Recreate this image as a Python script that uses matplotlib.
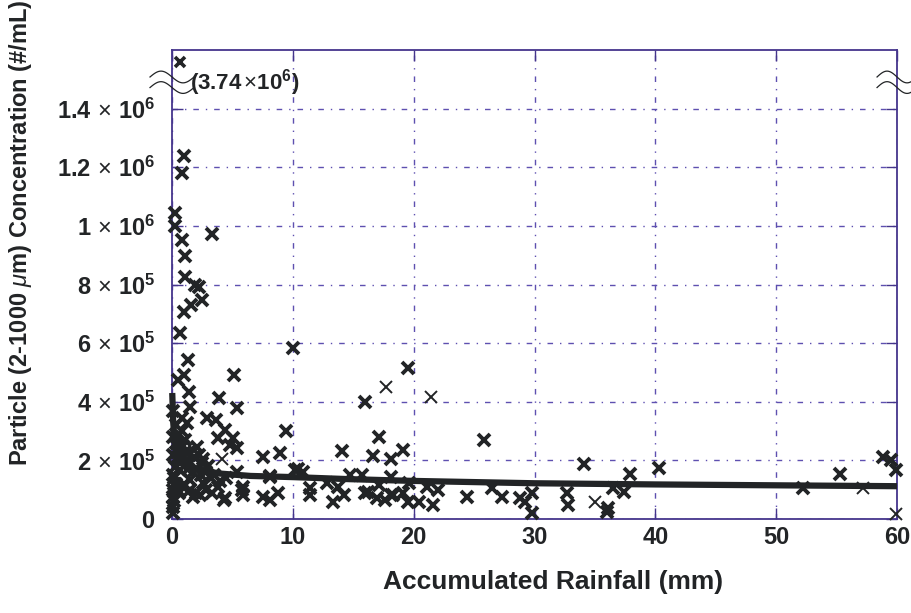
import numpy as np
import matplotlib
matplotlib.use("Agg")
import matplotlib.pyplot as plt
import matplotlib.transforms as mtransforms

plt.rcParams['font.family'] = ['Liberation Sans', 'DejaVu Sans']
plt.rcParams['mathtext.fontset'] = 'custom'
plt.rcParams['mathtext.rm'] = 'Liberation Sans'
plt.rcParams['mathtext.bf'] = 'Liberation Sans:bold'
plt.rcParams['mathtext.it'] = 'Liberation Sans:italic'

# ---------------- data ----------------
# bold markers
rain_x = [1.0, 0.8, 0.25, 0.25, 0.8, 1.1, 3.3, 1.1, 1.9, 2.2, 2.5, 1.6, 1.0, 0.65,
          10.0, 5.1, 1.3, 1.0, 0.5, 1.4, 3.9, 5.4, 1.5, 0.8, 2.9, 3.6, 1.2, 4.4,
          3.8, 5.05, 5.4, 4.8, 2.1, 9.4, 8.9, 7.5, 14.1, 2.6, 10.4, 10.8, 8.1,
          5.4, 5.9, 5.9, 4.4, 7.5, 8.1, 8.8, 11.4, 11.4, 13.3, 13.7, 14.2, 2.3,
          1.7, 0.9, 0.1, 0.1, 0.1, 0.65, 0.25, 1.5, 2.6, 1.1, 2.2,
          16.0, 17.1, 16.6, 18.1, 8.1, 10.2, 12.8, 14.7, 15.7, 16.0, 17.1, 17.0,
          17.6, 18.1, 18.3, 19.5, 19.1, 25.8, 34.1, 16.2, 18.1, 19.1, 19.6, 19.5,
          20.4, 21.1, 21.6, 22.0, 24.4, 26.5, 27.3, 28.8, 29.2, 29.8, 29.8, 32.7,
          32.8, 37.9, 40.3, 36.0, 36.1, 36.5, 37.4, 52.2, 55.3, 58.8, 59.5, 59.9,
          5.8, 4.3,
          0.3, 0.4, 0.5, 0.6, 0.7, 0.8, 0.9, 1.0, 1.2, 1.3, 1.5, 1.7, 2.0, 2.4,
          2.8, 3.2, 0.2, 0.3, 0.5, 0.6, 0.2, 0.1, 0.4, 0.6, 1.1, 1.4, 1.8, 2.5,
          3.0, 3.5, 4.0, 4.5, 1.0, 1.5, 2.0, 2.8, 3.3, 3.8, 0.8, 0.3, 0.1, 0.05,
          0.1, 0.15, 0.1]
conc_y = [1.24e6, 1.18e6, 1.043e6, 0.998e6, 0.951e6, 0.899e6, 0.974e6, 0.824e6,
          0.797e6, 0.790e6, 0.746e6, 0.729e6, 0.705e6, 0.634e6,
          5.83e5, 4.9e5, 5.42e5, 4.9e5, 4.74e5, 4.33e5, 4.12e5, 3.78e5, 3.82e5,
          3.44e5, 3.44e5, 3.37e5, 3.27e5, 3.03e5, 2.76e5, 2.76e5, 2.42e5, 2.52e5,
          2.45e5, 3.0e5, 2.25e5, 2.11e5, 2.32e5, 2.04e5, 1.70e5, 1.60e5, 1.47e5,
          1.60e5, 1.09e5, 0.82e5, 0.72e5, 0.75e5, 0.65e5, 0.89e5, 1.06e5, 0.82e5,
          0.58e5, 1.09e5, 0.82e5, 0.82e5, 0.75e5, 1.09e5, 0.75e5, 0.2e5, 0.41e5,
          1.67e5, 1.77e5, 1.33e5, 1.23e5, 2.28e5, 2.18e5,
          3.99e5, 2.79e5, 2.15e5, 2.04e5, 1.43e5, 1.67e5, 1.23e5, 1.5e5, 1.5e5,
          0.89e5, 1.16e5, 0.72e5, 0.65e5, 1.43e5, 0.82e5, 5.14e5, 2.35e5, 2.69e5,
          1.87e5, 0.92e5, 0.82e5, 0.89e5, 1.23e5, 0.58e5, 0.58e5, 1.09e5, 0.48e5,
          0.99e5, 0.75e5, 1.06e5, 0.75e5, 0.72e5, 0.58e5, 0.89e5, 0.2e5, 0.89e5,
          0.48e5, 1.53e5, 1.74e5, 0.24e5, 0.37e5, 1.06e5, 0.92e5, 1.06e5, 1.53e5,
          2.11e5, 2.0e5, 1.67e5,
          0.99e5, 0.65e5,
          2.6e5, 2.3e5, 2.1e5, 2.0e5, 1.9e5, 2.2e5, 2.5e5, 1.8e5, 2.0e5, 1.7e5,
          1.9e5, 1.6e5, 1.7e5, 1.5e5, 1.6e5, 1.4e5, 1.4e5, 1.2e5, 1.0e5, 0.9e5,
          0.6e5, 1.0e5, 2.8e5, 2.4e5, 2.7e5, 2.3e5, 2.1e5, 1.9e5, 1.8e5, 1.5e5,
          1.3e5, 1.4e5, 1.2e5, 1.0e5, 0.9e5, 1.0e5, 0.9e5, 1.1e5, 3.0e5, 3.2e5,
          2.8e5, 2.2e5, 1.5e5, 1.2e5, 3.7e5]

# thinner markers
thin_x = [4.1, 17.7, 21.4, 57.2, 59.9, 35.0]
thin_y = [2.04e5, 4.5e5, 4.16e5, 1.06e5, 0.17e5, 0.58e5]

# off-scale outlier (drawn at the axis break)
outlier_x = 0.7
outlier_value = 3.74e6
outlier_shown = 1.56e6
break_level = 1.49e6

# fitted curve
fit_x = [0.02, 0.1, 0.2, 0.4, 0.7, 1.0, 1.5, 2.3, 4.0, 6.5, 10.0, 14.7, 20.0,
         30.0, 40.0, 50.0, 60.0]
fit_y = [4.3e5, 3.3e5, 2.8e5, 2.35e5, 2.1e5, 1.95e5, 1.82e5, 1.67e5, 1.55e5,
         1.47e5, 1.43e5, 1.36e5, 1.30e5, 1.22e5, 1.18e5, 1.15e5, 1.12e5]

x_ticks = [0, 10, 20, 30, 40, 50, 60]
y_ticks = [0, 2e5, 4e5, 6e5, 8e5, 1e6, 1.2e6, 1.4e6]
y_tick_labels = [r'$\mathbf{0}$',
                 r'$\mathbf{2}\,\times\,\mathbf{10^{5}}$',
                 r'$\mathbf{4}\,\times\,\mathbf{10^{5}}$',
                 r'$\mathbf{6}\,\times\,\mathbf{10^{5}}$',
                 r'$\mathbf{8}\,\times\,\mathbf{10^{5}}$',
                 r'$\mathbf{1}\,\times\,\mathbf{10^{6}}$',
                 r'$\mathbf{1.2}\,\times\,\mathbf{10^{6}}$',
                 r'$\mathbf{1.4}\,\times\,\mathbf{10^{6}}$']

# ---------------- figure ----------------
fig = plt.figure(figsize=(9.12, 6.13), dpi=100)
ax = fig.add_axes([0.1886, 0.1533, 0.9836 - 0.1886, 0.9184 - 0.1533])

grid_col = '#5e50b0'
spine_col = '#45358c'
ink = '#222426'

ax.set_xlim(0, 60)
ax.set_ylim(0, 1.6e6)
ax.set_xticks(x_ticks)
ax.set_yticks(y_ticks)
ax.set_yticklabels(y_tick_labels)
ax.set_xticklabels([str(v) for v in x_ticks], fontweight='bold')
ax.tick_params(axis='both', direction='in', length=8, width=1.0, color=spine_col,
               labelsize=17, top=True, right=True)
ax.tick_params(axis='x', pad=5)
ax.tick_params(axis='y', pad=12)
for s in ax.spines.values():
    s.set_color(spine_col)
    s.set_linewidth(1.3)

ax.grid(True, color=grid_col, linestyle=(0, (4, 5, 1, 5)), linewidth=1.0)
ax.set_axisbelow(True)

ax.plot(fit_x, fit_y, color=ink, linewidth=4.5, solid_capstyle='butt', zorder=3,
        clip_on=False)
ax.plot(rain_x, conc_y, linestyle='none', marker='x', markersize=8.5,
        markeredgewidth=2.8, color=ink, zorder=4, clip_on=False)
ax.plot(thin_x, thin_y, linestyle='none', marker='x', markersize=8,
        markeredgewidth=1.4, color=ink, zorder=4, clip_on=False)
ax.plot([outlier_x], [outlier_shown], linestyle='none', marker='x', markersize=6.5,
        markeredgewidth=2.6, color=ink, zorder=4, clip_on=False)

ax.text(1.5, break_level, r'$\mathbf{(3.74}\,{\times}\mathbf{10^{6})}$'.replace('3.74', f'{outlier_value/1e6:.2f}'),
        fontsize=16, color=ink, va='center', ha='left', zorder=5)

# axis-break marks (two wavy strokes) at left and right
trans = mtransforms.blended_transform_factory(ax.transAxes, ax.transData)
axw_px = (0.9836 - 0.1886) * 912
t = np.linspace(0, 1, 60)
for x0, half in [(0.0, 22), (1.0, 20)]:
    xs = x0 + (t - 0.5) * 2 * half / axw_px
    for dy in (-0.018e6, 0.018e6):
        ys = break_level + dy + 0.02e6 * np.sin(2 * np.pi * t)
        ax.plot(xs, ys, color=ink, linewidth=0.9, transform=trans, clip_on=False,
                zorder=6)

ax.set_xlabel('Accumulated Rainfall (mm)', fontsize=19, fontweight='bold',
              color=ink)
ax.set_ylabel(r'Particle (2-1000 $\mu$m) Concentration (#/mL)', fontsize=17,
              fontweight='bold', color=ink)
ax.xaxis.set_label_coords(0.526, -0.108)
ax.yaxis.set_label_coords(-0.19, 0.61)
for lab in ax.get_xticklabels() + ax.get_yticklabels():
    lab.set_color(ink)

fig.savefig('out.png', dpi=100)
